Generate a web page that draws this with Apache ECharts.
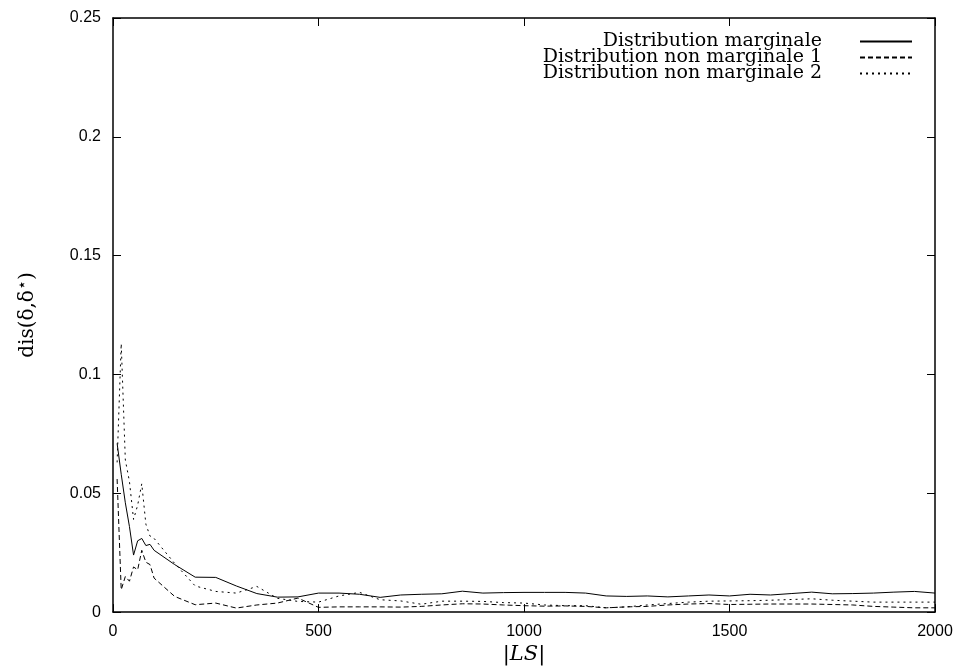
<!DOCTYPE html>
<html>
<head>
<meta charset="utf-8">
<script src="https://cdn.jsdelivr.net/npm/echarts@6/dist/echarts.min.js"></script>
<style>
  html, body { margin: 0; padding: 0; background: #fff; }
  #chart { width: 958px; height: 670px; }
</style>
</head>
<body>
<div id="chart"></div>
<script>
// |LS| values (x axis)
var lsSizes = [10, 20, 30, 40, 50, 60, 70, 80, 90, 100,
  150, 200, 250, 300, 350, 400, 450, 500, 550, 600, 650, 700, 750, 800, 850, 900, 950, 1000,
  1050, 1100, 1150, 1200, 1250, 1300, 1350, 1400, 1450, 1500, 1550, 1600, 1650, 1700, 1750, 1800,
  1850, 1900, 1950, 2000];

var marginale = [0.071, 0.058, 0.046, 0.036, 0.024, 0.030, 0.031, 0.028, 0.0285, 0.026,
  0.020, 0.0147, 0.0146, 0.011, 0.0078, 0.0063, 0.0064, 0.008, 0.008, 0.0075, 0.0062, 0.0072, 0.0075, 0.0077, 0.0088, 0.008, 0.0082, 0.0083,
  0.0083, 0.0083, 0.008, 0.0068, 0.0066, 0.0068, 0.0064, 0.0068, 0.0072, 0.0068, 0.0075, 0.0072, 0.0078, 0.0084, 0.0077, 0.0078,
  0.008, 0.0084, 0.0087, 0.008];

var nonMarginale1 = [0.056, 0.0094, 0.015, 0.013, 0.019, 0.0178, 0.026, 0.021, 0.020, 0.0143,
  0.0066, 0.0031, 0.0038, 0.0017, 0.003, 0.0038, 0.0059, 0.002, 0.0022, 0.0022, 0.0022, 0.0021, 0.0024, 0.003, 0.0035, 0.0034, 0.003, 0.0027,
  0.0025, 0.0026, 0.0024, 0.0018, 0.0022, 0.0024, 0.003, 0.0034, 0.0036, 0.0032, 0.0033, 0.0034, 0.0034, 0.0034, 0.0032, 0.003,
  0.0024, 0.0021, 0.0018, 0.0018];

var nonMarginale2 = [0.063, 0.113, 0.064, 0.055, 0.039, 0.045, 0.054, 0.037, 0.032, 0.031,
  0.0205, 0.011, 0.0087, 0.008, 0.0108, 0.0058, 0.0045, 0.0042, 0.0068, 0.0083, 0.0052, 0.0047, 0.0033, 0.0046, 0.0046, 0.0045, 0.004, 0.0038,
  0.003, 0.0027, 0.0027, 0.0018, 0.0022, 0.003, 0.0036, 0.0042, 0.0046, 0.0047, 0.0048, 0.005, 0.0053, 0.0056, 0.005, 0.0046,
  0.0042, 0.0042, 0.0042, 0.0042];

var seriesNames = ['Distribution marginale', 'Distribution non marginale 1', 'Distribution non marginale 2'];

function pairs(vals) {
  return lsSizes.map(function(x, i) { return [x, vals[i]]; });
}

var myChart = echarts.init(document.getElementById('chart'));

var tickFont = { fontFamily: 'Liberation Sans', fontSize: 16, color: '#000' };
var frameLine = { show: true, onZero: false, lineStyle: { color: '#000', width: 1.5 } };
var inTick = { show: true, inside: true, length: 8, lineStyle: { color: '#000', width: 1 } };

var option = {
  animation: false,
  grid: { left: 113, right: 23, top: 18, bottom: 57 },
  legend: {
    data: seriesNames,
    orient: 'vertical',
    align: 'right',
    right: 40,
    top: 27,
    itemWidth: 52,
    itemHeight: 12,
    itemGap: -3,
    itemStyle: { opacity: 0 },
    textStyle: { fontFamily: 'DejaVu Serif', fontSize: 19, color: '#000', padding: [0, 33, 0, 0] }
  },
  xAxis: [{
    type: 'value',
    min: 0, max: 2000, interval: 500,
    axisLine: frameLine,
    axisTick: inTick,
    splitLine: { show: false },
    axisLabel: Object.assign({ margin: 11, formatter: function(v) { return String(v); } }, tickFont),
    name: '{n||}{i|LS}{n||}',
    nameLocation: 'middle',
    nameGap: 28,
    nameTextStyle: {
      rich: {
        n: { fontFamily: 'DejaVu Serif', fontSize: 21, color: '#000' },
        i: { fontFamily: 'DejaVu Serif', fontStyle: 'italic', fontSize: 21, color: '#000' }
      }
    }
  }, {
    type: 'value', position: 'top',
    min: 0, max: 2000, interval: 500,
    axisLine: frameLine, axisTick: inTick,
    axisLabel: { show: false }, splitLine: { show: false }
  }],
  yAxis: [{
    type: 'value',
    min: 0, max: 0.25, interval: 0.05,
    axisLine: frameLine,
    axisTick: inTick,
    splitLine: { show: false },
    axisLabel: Object.assign({ margin: 12 }, tickFont),
    name: '{n|dis(δ,δ}{s|⋆}{n|)}',
    nameLocation: 'middle',
    nameRotate: 90,
    nameGap: 72,
    nameTextStyle: {
      rich: {
        n: { fontFamily: 'DejaVu Serif', fontSize: 20, color: '#000' },
        s: { fontFamily: 'DejaVu Sans', fontSize: 16, color: '#000', padding: [0, 0, 10, 0] }
      }
    }
  }, {
    type: 'value', position: 'right',
    min: 0, max: 0.25, interval: 0.05,
    axisLine: frameLine, axisTick: inTick,
    axisLabel: { show: false }, splitLine: { show: false }
  }],
  series: [{
    name: seriesNames[0],
    type: 'line',
    data: pairs(marginale),
    symbol: 'none',
    lineStyle: { color: '#000', width: 1, type: 'solid' },
    itemStyle: { color: '#000' }
  }, {
    name: seriesNames[1],
    type: 'line',
    data: pairs(nonMarginale1),
    symbol: 'none',
    lineStyle: { color: '#000', width: 1, type: [5, 3] },
    itemStyle: { color: '#000' }
  }, {
    name: seriesNames[2],
    type: 'line',
    data: pairs(nonMarginale2),
    symbol: 'none',
    lineStyle: { color: '#000', width: 1, type: [2, 4] },
    itemStyle: { color: '#000' }
  }]
};

myChart.setOption(option);
</script>
</body>
</html>
